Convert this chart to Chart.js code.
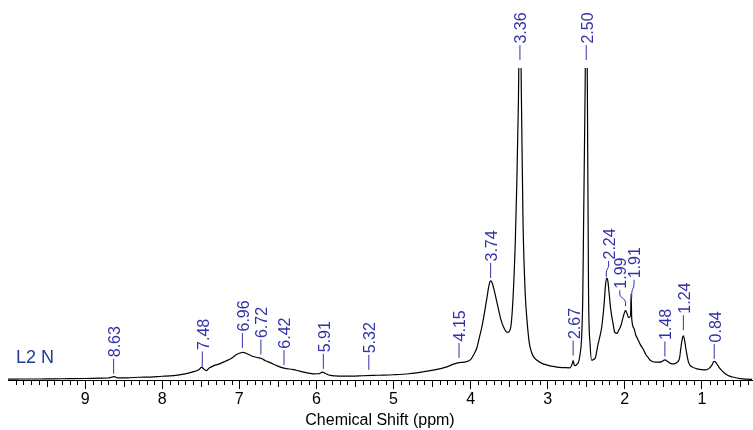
<!DOCTYPE html>
<html>
<head>
<meta charset="utf-8">
<script src="https://cdn.jsdelivr.net/npm/chart.js@4"></script>
<style>
  body { margin:0; background:#fff; }
</style>
</head>
<body>
<canvas id="nmrChart" width="753" height="430"></canvas>
<script>
// spectrum (ppm, intensity)
const shift=[10.00,9.80,9.60,9.40,9.20,9.00,8.80,8.70,8.65,8.62,8.58,8.45,8.30,8.15,8.00,7.90,7.80,7.70,7.60,7.52,7.49,7.46,7.43,7.39,7.33,7.25,7.18,7.10,7.03,6.98,6.95,6.90,6.82,6.76,6.72,6.66,6.60,6.50,6.42,6.30,6.22,6.12,6.04,5.97,5.92,5.88,5.82,5.70,5.55,5.40,5.20,5.00,4.80,4.60,4.45,4.32,4.22,4.15,4.08,4.00,3.95,3.92,3.88,3.85,3.82,3.79,3.76,3.74,3.72,3.68,3.64,3.61,3.57,3.52,3.48,3.45,3.42,3.40,3.38,3.36,3.34,3.32,3.29,3.27,3.24,3.21,3.17,3.10,3.05,2.95,2.88,2.78,2.71,2.68,2.67,2.655,2.64,2.62,2.60,2.58,2.56,2.545,2.535,2.515,2.50,2.485,2.47,2.45,2.43,2.41,2.38,2.35,2.32,2.30,2.27,2.25,2.235,2.22,2.20,2.18,2.15,2.13,2.10,2.08,2.05,2.03,2.00,1.99,1.97,1.95,1.925,1.918,1.91,1.88,1.86,1.83,1.80,1.76,1.73,1.70,1.67,1.60,1.56,1.52,1.48,1.44,1.40,1.36,1.32,1.29,1.27,1.25,1.24,1.22,1.20,1.17,1.12,1.06,1.00,0.95,0.91,0.87,0.845,0.83,0.80,0.78,0.74,0.71,0.66,0.60,0.50,0.42,0.35];
const intensity=[0.8,1.0,1.0,1.2,1.3,1.5,1.8,2.0,3.0,3.5,2.2,2.2,2.8,3.0,3.8,4.2,5.0,6.2,8.2,10.5,13,11,9.5,12,14.5,16.5,19,22,26,27.5,27.8,26.5,23.7,22.5,22,19.5,17.5,14,12,10.5,9,7.2,6.2,6.3,8,6.5,4.7,4,4,4.3,4.8,5.3,6.3,8.5,10.5,13,16,17.5,18,20.5,27,32,45,55,68,82,96,100,98,86,72,62,53,48,53,82,140,200,280,400,280,160,85,62,38,28,22,18,16,14,13,12.5,12.3,17,19.5,15,14.5,16,18,26,43,83,153,290,420,290,86,36,20,20.5,23,35,45,53,75,96,103,100,85,70,56,48,47,50,55,61,69,70,67,63,65,87,62,52,46,41,36,31,26,23,20,18,18,18.5,20.3,18.5,16.5,16.3,18,22,34,43,44.7,38,28,17,13,11.3,10.5,10.3,11.5,15,18.5,18.5,15.5,13,9.5,7,4.5,3,1.3,0.8,0.6];

// peak labels
const peakText=['8.63','7.48','6.96','6.72','6.42','5.91','5.32','4.15','3.74','3.36','2.50','2.67','2.24','1.99','1.91','1.48','1.24','0.84'];
const peakLevel=[6.3,13.7,32.3,25.7,15,11.3,10.3,22.3,103,323,323,24.7,104,74.5,83,23.7,50.3,21.3];
const peakShift=[0,0,0,0,0,0,0,0,0,0,0,0,-0.03,0.075,-0.03,0,0,0];

const axisTicks=[1,2,3,4,5,6,7,8,9];
const sampleName='L2 N';

const labelColor='#3232a8';

const peakLabels={
  id:'peakLabels',
  afterDatasetsDraw(c){
    const ctx=c.ctx, xs=c.scales.x, ys=c.scales.y;
    ctx.save();
    ctx.strokeStyle=labelColor;
    ctx.fillStyle=labelColor;
    ctx.lineWidth=1;
    ctx.font='16px "Liberation Sans", Arial, sans-serif';
    peakText.forEach((t,i)=>{
      const xb=xs.getPixelForValue(parseFloat(t));
      const xt=xs.getPixelForValue(parseFloat(t)+peakShift[i]);
      const yb=ys.getPixelForValue(peakLevel[i]);
      const bent=peakShift[i]!==0;
      const len=bent?(t==='1.91'?18:16):15;
      const yt=yb-len;
      ctx.beginPath();
      if(bent){
        ctx.moveTo(xb,yb);
        ctx.lineTo(xb,yb-4);
        ctx.bezierCurveTo(xb,yb-len/2,xt,yb-len/2,xt,yt+4);
        ctx.lineTo(xt,yt);
      } else {
        ctx.moveTo(xb,yb);
        ctx.lineTo(xb,yt);
      }
      ctx.stroke();
      ctx.save();
      ctx.translate(xt+2,yt-1.5);
      ctx.rotate(-Math.PI/2);
      ctx.textAlign='left';
      ctx.textBaseline='middle';
      ctx.fillText(t,0,0);
      ctx.restore();
    });
    // sample name
    ctx.fillStyle='#1e3c96';
    ctx.font='18px "Liberation Sans", Arial, sans-serif';
    ctx.textAlign='left';
    ctx.textBaseline='alphabetic';
    ctx.fillText(sampleName,16,363);
    ctx.restore();
  }
};

const minorTicks={
  id:'minorTicks',
  afterDraw(c){
    const ctx=c.ctx, xs=c.scales.x;
    const y0=xs.top;
    ctx.save();
    ctx.strokeStyle='#000';
    ctx.lineWidth=1;
    ctx.beginPath();
    for(let k=4;k<=100;k++){
      if(k%10===0) continue;
      const px=Math.round(xs.getPixelForValue(k/10))+0.5;
      const l=(k%5===0)?7:5;
      ctx.moveTo(px,y0);
      ctx.lineTo(px,y0+l);
    }
    ctx.stroke();
    ctx.restore();
  }
};

Chart.defaults.font.family='"Liberation Sans", Arial, sans-serif';
Chart.defaults.color='#000';

new Chart(document.getElementById('nmrChart'),{
  type:'line',
  data:{
    datasets:[{
      data:shift.map((s,i)=>({x:s,y:intensity[i]})),
      borderColor:'#000',
      borderWidth:1.2,
      pointRadius:0,
      fill:false,
      cubicInterpolationMode:'monotone'
    }]
  },
  options:{
    responsive:false,
    animation:false,
    devicePixelRatio:1,
    layout:{padding:{top:68,left:8,right:1,bottom:1}},
    plugins:{legend:{display:false},tooltip:{enabled:false}},
    scales:{
      x:{
        type:'linear',
        reverse:true,
        min:0.35,
        max:10.0,
        afterBuildTicks:s=>{ s.ticks=axisTicks.map(v=>({value:v})); },
        ticks:{font:{size:16,lineHeight:1},padding:3,maxRotation:0,autoSkip:false},
        grid:{drawOnChartArea:false,tickLength:9,tickColor:'#000'},
        border:{color:'#000',width:1},
        title:{display:true,text:'Chemical Shift (ppm)',font:{size:16,lineHeight:1},padding:{top:2,bottom:0}}
      },
      y:{display:false,min:0,max:315}
    }
  },
  plugins:[peakLabels,minorTicks]
});
</script>
</body>
</html>
